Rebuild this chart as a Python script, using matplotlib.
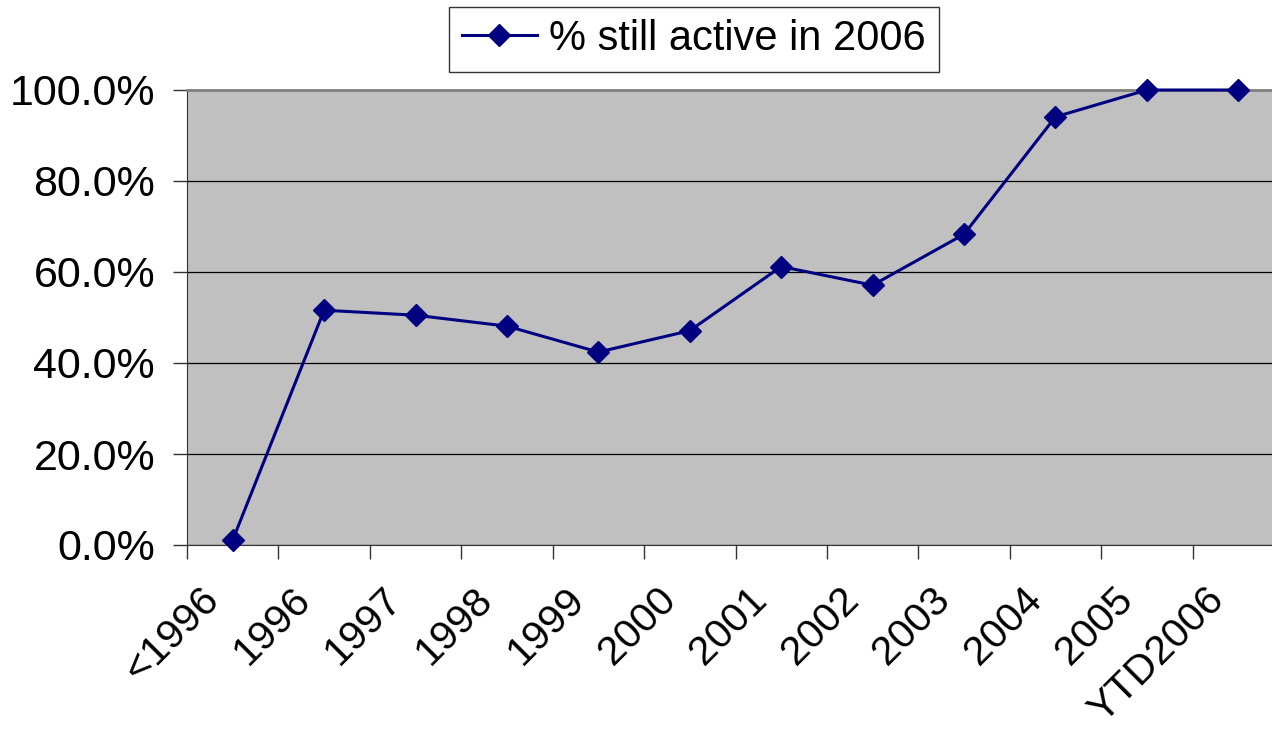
import matplotlib.pyplot as plt
import matplotlib.ticker as mticker
import matplotlib.transforms as mtrans

plt.rcParams['font.family'] = ['Liberation Sans', 'DejaVu Sans']

# categories and share of accounts still active in 2006
years = ['<1996', '1996', '1997', '1998', '1999', '2000',
         '2001', '2002', '2003', '2004', '2005', 'YTD2006']
pct_active = [0.011, 0.516, 0.505, 0.481, 0.424, 0.471,
              0.612, 0.571, 0.683, 0.941, 1.0, 1.0]

fig = plt.figure(figsize=(12.72, 7.32), dpi=100)
ax = fig.add_axes([187 / 1272, 1 - 545 / 732, 1097 / 1272, 455 / 732])
ax.set_facecolor('#C0C0C0')

x = list(range(len(years)))
line, = ax.plot(x, pct_active, color='#000080', lw=2.2, marker='D',
                ms=11, label='% still active in 2006', clip_on=False, zorder=3)

ax.set_xlim(-0.5, len(years) - 0.5)
ax.set_ylim(0, 1)
ax.yaxis.set_major_locator(mticker.MultipleLocator(0.2))
ax.yaxis.set_major_formatter(mticker.PercentFormatter(1.0, decimals=1))
ax.grid(axis='y', color='black', lw=0.9)
ax.set_axisbelow(True)

# tick marks at category boundaries, labels at centres
ax.set_xticks(x)
ax.set_xticklabels(years)
ax.set_xticks([i - 0.5 for i in range(len(years) + 1)], minor=True)
ax.tick_params(axis='x', which='major', length=0, labelsize=29.5, pad=35)
ax.tick_params(axis='x', which='minor', length=10, width=1, color='#333333')
ax.tick_params(axis='y', length=10, width=1, color='#333333', labelsize=31, pad=13)
for lab in ax.get_xticklabels():
    lab.set_rotation(45)
    lab.set_ha('right')
    lab.set_va('center')
    lab.set_rotation_mode('anchor')
    lab.set_transform(lab.get_transform() +
                      mtrans.ScaledTranslation(-0.2, 0, fig.dpi_scale_trans))

ax.spines['top'].set_color('#808080')
ax.spines['top'].set_linewidth(2)
ax.spines['left'].set_color('#333333')
ax.spines['bottom'].set_color('#333333')
ax.spines['right'].set_visible(False)

leg = fig.legend(handles=[line], loc='center', bbox_to_anchor=(694 / 1272, 1 - 39 / 732),
                 fontsize=30, frameon=True, fancybox=False, edgecolor='black',
                 handlelength=1.8, handletextpad=0.3, borderpad=0.3)
leg.get_frame().set_linewidth(1)

fig.savefig('out.png', dpi=100)
